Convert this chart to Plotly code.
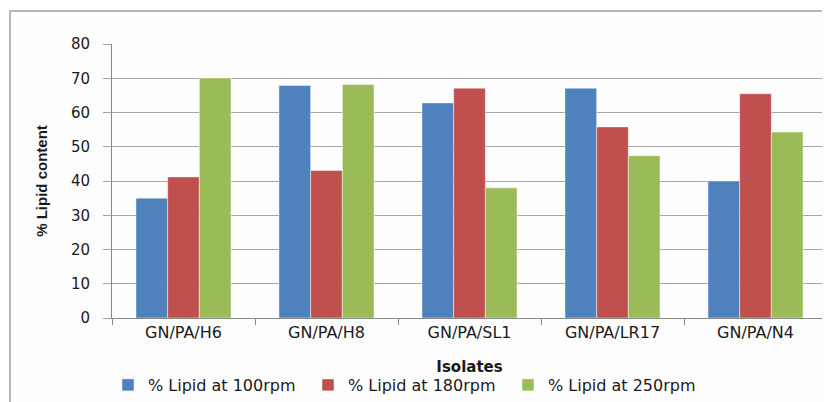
import plotly.graph_objects as go

isolates = ["GN/PA/H6", "GN/PA/H8", "GN/PA/SL1", "GN/PA/LR17", "GN/PA/N4"]
lipid_100 = [35.0, 67.9, 62.8, 67.1, 40.0]
lipid_180 = [41.2, 43.1, 67.1, 55.8, 65.5]
lipid_250 = [70.1, 68.2, 38.0, 47.4, 54.3]
series_names = ["% Lipid at 100rpm", "% Lipid at 180rpm", "% Lipid at 250rpm"]
colors = ["#4F81BD", "#C0504D", "#9BBB59"]
y_ticks = [0, 10, 20, 30, 40, 50, 60, 70, 80]

# the page body adds an 8px margin, so the figure is 8px smaller than the window
W, H = 822, 394
L, R, T, B = 104, 3, 36, 84
pw, ph = W - L - R, H - T - B

fig = go.Figure()
for name, vals, col in zip(series_names, [lipid_100, lipid_180, lipid_250], colors):
    fig.add_trace(go.Bar(
        x=isolates, y=vals, name=name,
        marker=dict(color=col, line=dict(color="rgba(255,255,255,0.6)", width=0.8)),
    ))

font_family = "DejaVu Sans, Verdana, sans-serif"
txt = "#1a1a1a"

fig.update_layout(
    width=W, height=H,
    margin=dict(l=L, r=R, t=T, b=B, autoexpand=False),
    paper_bgcolor="#FEFEFE", plot_bgcolor="#FEFEFE",
    barmode="group", bargap=0.335, bargroupgap=0,
    font=dict(family=font_family, size=15, color=txt),
    showlegend=True,
    legend=dict(
        orientation="h", x=(100 - L) / pw, xanchor="left",
        y=(T + ph - 377) / ph, yanchor="middle",
        entrywidth=155, entrywidthmode="pixels", itemwidth=30,
        font=dict(family=font_family, size=16, color=txt),
        bgcolor="rgba(0,0,0,0)", itemclick=False,
    ),
    xaxis=dict(
        showline=True, linecolor="#888888", linewidth=1,
        ticks="outside", tickson="boundaries", ticklen=6, tickcolor="#888888",
        tickfont=dict(family=font_family, size=16, color=txt),
        showgrid=False, automargin=False,
        title=dict(text="<b>Isolates</b>", standoff=20,
                   font=dict(family=font_family, size=15, color=txt)),
    ),
    yaxis=dict(
        range=[0, 80], tickvals=y_ticks,
        showline=True, linecolor="#888888", linewidth=1,
        ticks="outside", ticklen=8, tickcolor="#A6A6A6",
        ticklabelstandoff=10,
        tickfont=dict(family=font_family, size=15, color=txt),
        showgrid=True, gridcolor="#A6A6A6", gridwidth=1,
        zeroline=False, automargin=False,
        title=dict(text="<b>% Lipid content</b>", standoff=19,
                   font=dict(family="Liberation Sans, Arial, sans-serif", size=15, color=txt)),
    ),
)

# outer chart border (Excel chart area)
fig.add_shape(
    type="rect", xref="paper", yref="paper", layer="below",
    x0=(2 - L) / pw, x1=(W + 10 - L) / pw,
    y0=(T + ph - (H + 10)) / ph, y1=(T + ph - 3) / ph,
    line=dict(color="#A0A0A0", width=1.5), fillcolor="rgba(0,0,0,0)",
)

fig.write_html("out.html")
